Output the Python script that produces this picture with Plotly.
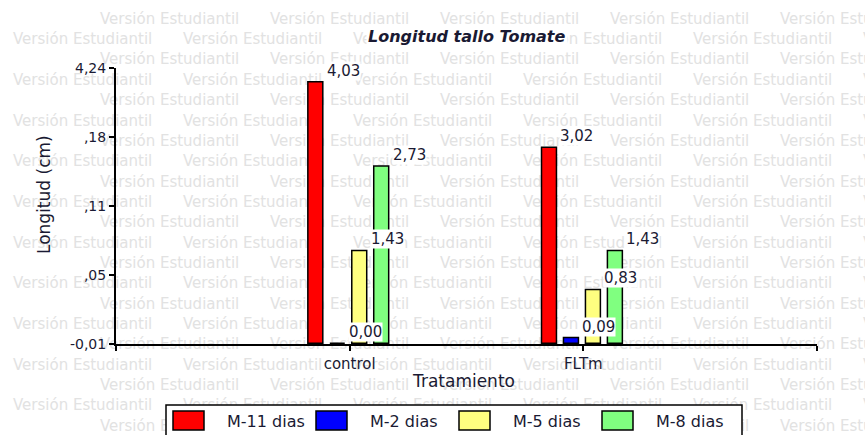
import plotly.graph_objects as go

# ---- data -------------------------------------------------------------
categories = ["control", "FLTm"]
series_names = ["M-11 dias", "M-2 dias", "M-5 dias", "M-8 dias"]
m11_dias = [4.03, 3.02]
m2_dias = [0.00, 0.09]
m5_dias = [1.43, 0.83]
m8_dias = [2.73, 1.43]
series_values = [m11_dias, m2_dias, m5_dias, m8_dias]
series_colors = ["#ff0000", "#0000ff", "#ffff80", "#80ff80"]

y_tick_vals = [-0.01, 1.0525, 2.115, 3.1775, 4.24]
y_tick_text = ["-0,01", ",05", ",11", ",18", "4,24"]

# ---- geometry ---------------------------------------------------------
W, H = 865, 435
PL, PR, PT, PB = 116, 817, 68, 344          # plot-area edges in pixels
FONT = "DejaVu Sans"
TXT = "#1a1a33"

def px(xp):
    return xp / W

def py(yp):
    return (H - yp) / H

cat_pos = list(range(len(categories)))
SLOT = 0.094        # distance between neighbouring bars in a group
BAR_W = 0.064       # bar width in category units
GROUP_SHIFT = -0.006

fig = go.Figure()

# ---- "Versión Estudiantil" background watermark over the whole page -----
wm_x, wm_y = [], []
for k in range(22):
    row_y = 20 + 20.35 * k
    start = -70 if k % 2 == 0 else 13
    xx = start
    while xx < W:
        wm_x.append(xx)
        wm_y.append(row_y)
        xx += 170
fig.add_trace(go.Scatter(
    x=wm_x, y=wm_y, mode="text", text=["Versión Estudiantil"] * len(wm_x),
    textposition="middle right",
    textfont=dict(family=FONT, size=15, color="#e2e2e2"),
    cliponaxis=False, hoverinfo="skip", showlegend=False,
    xaxis="x", yaxis="y",
))

# ---- bars -------------------------------------------------------------
annotations = []
for i, (name, vals, col) in enumerate(zip(series_names, series_values, series_colors)):
    centre_off = (i - (len(series_names) - 1) / 2) * SLOT + GROUP_SHIFT
    fig.add_trace(go.Bar(
        x=cat_pos, y=vals, name=name,
        width=BAR_W, offset=centre_off - BAR_W / 2,
        marker=dict(color=col, line=dict(color="black", width=1.5)),
        xaxis="x2", yaxis="y2", showlegend=False,
    ))
    for xc, v in zip(cat_pos, vals):
        annotations.append(dict(
            x=xc + centre_off + BAR_W / 2, y=v, xref="x2", yref="y2",
            text=f"{v:.2f}".replace(".", ","), showarrow=False,
            xanchor="left", yanchor="bottom", xshift=3, yshift=1,
            bgcolor="white", borderpad=0,
            font=dict(family=FONT, size=15, color=TXT),
        ))

# ---- titles -----------------------------------------------------------
annotations.append(dict(
    x=px(467), y=py(37), xref="paper", yref="paper",
    text="<b><i>Longitud tallo Tomate</i></b>", showarrow=False,
    xanchor="center", yanchor="middle", bgcolor="white",
    font=dict(family=FONT, size=16, color=TXT),
))
annotations.append(dict(
    x=px(44), y=py(195), xref="paper", yref="paper",
    text="Longitud (cm)", textangle=-90, showarrow=False,
    xanchor="center", yanchor="middle",
    font=dict(family=FONT, size=17, color=TXT),
))
annotations.append(dict(
    x=px(464), y=py(381), xref="paper", yref="paper",
    text="Tratamiento", showarrow=False,
    xanchor="center", yanchor="middle",
    font=dict(family=FONT, size=17, color=TXT),
))

# ---- legend box (drawn by hand) --------------------------------------
shapes = [dict(
    type="rect", xref="paper", yref="paper",
    x0=px(166), x1=px(742), y0=py(445), y1=py(405),
    line=dict(color="black", width=1.5), fillcolor="white", layer="above",
)]
for i, (name, col) in enumerate(zip(series_names, series_colors)):
    sx = 173 + i * 143
    shapes.append(dict(
        type="rect", xref="paper", yref="paper",
        x0=px(sx), x1=px(sx + 31), y0=py(430), y1=py(411),
        line=dict(color="black", width=1.5), fillcolor=col, layer="above",
    ))
    annotations.append(dict(
        x=px(sx + 52), y=py(421), xref="paper", yref="paper",
        text=name, showarrow=False, xanchor="left", yanchor="middle",
        font=dict(family=FONT, size=16, color=TXT),
    ))

fig.update_layout(
    width=W, height=H,
    margin=dict(l=0, r=0, t=0, b=0, pad=0, autoexpand=False),
    paper_bgcolor="white", plot_bgcolor="rgba(0,0,0,0)",
    barmode="overlay",
    showlegend=False,
    # full-page axes carrying the watermark
    xaxis=dict(domain=[0, 1], range=[0, W], visible=False, fixedrange=True,
               automargin=False),
    yaxis=dict(domain=[0, 1], range=[H, 0], visible=False, fixedrange=True,
               automargin=False),
    # chart axes
    xaxis2=dict(
        domain=[px(PL), px(PR)], anchor="y2", range=[-1, 2], automargin=False,
        tickvals=[-1] + cat_pos + [2], ticktext=[""] + categories + [""],
        showline=True, linecolor="black", linewidth=2,
        ticks="outside", ticklen=5, tickwidth=1.5, tickcolor="black",
        showgrid=False, zeroline=False,
        tickfont=dict(family=FONT, size=15, color=TXT),
    ),
    yaxis2=dict(
        domain=[py(PB), py(PT)], anchor="x2", range=[-0.01, 4.24], automargin=False,
        tickvals=y_tick_vals, ticktext=y_tick_text,
        showline=True, linecolor="black", linewidth=2,
        ticks="outside", ticklen=5, tickwidth=1.5, tickcolor="black",
        showgrid=False, zeroline=False,
        tickfont=dict(family=FONT, size=14, color=TXT),
    ),
    annotations=annotations,
    shapes=shapes,
)

fig.write_html("out.html")
